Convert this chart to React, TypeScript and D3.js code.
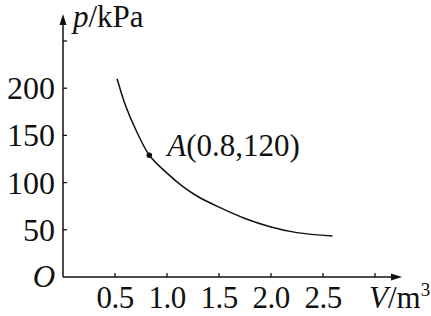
import React from "react";
import * as d3 from "d3";

const volumes = [0.52, 0.6, 0.7, 0.83, 1.0, 1.15, 1.3, 1.5, 1.75, 2.0, 2.25, 2.59];
const pressures = [210, 182, 156, 129, 110, 96, 85, 74, 62, 53, 47, 43.5];
const xTicks = [0.5, 1.0, 1.5, 2.0, 2.5, 3.0];
const xTickLabels = ["0.5", "1.0", "1.5", "2.0", "2.5", ""];
const yTicks = [50, 100, 150, 200, 250];
const yTickLabels = ["50", "100", "150", "200", ""];
const pointA = [0.83, 129];
const pointALabel = "A(0.8,120)";

const W = 431;
const H = 316;
const FONT = "'Liberation Serif', 'Times New Roman', Times, 'DejaVu Serif', serif";

export default function App() {
  const x = d3.scaleLinear().domain([0, 3]).range([63, 375]);
  const y = d3.scaleLinear().domain([0, 250]).range([277, 41]);
  const data = volumes.map((v, i) => [v, pressures[i]] as [number, number]);
  const line = d3
    .line<[number, number]>()
    .x((d) => x(d[0]))
    .y((d) => y(d[1]))
    .curve(d3.curveCatmullRom.alpha(0.5));

  const x0 = x(0);
  const y0 = y(0);
  const yTop = 14;
  const xEnd = 402;
  const fs = 31;
  const ts: React.CSSProperties = { fontFamily: FONT };

  return (
    <svg
      width={W}
      height={H}
      style={{ position: "absolute", left: 0, top: 0, background: "#fff" }}
    >
      {/* axes */}
      <line x1={x0} y1={y0} x2={x0} y2={yTop + 6} stroke="#111" strokeWidth={1.5} />
      <path d={`M${x0},${yTop} L${x0 - 3.5},${yTop + 11} L${x0 + 3.5},${yTop + 11} Z`} fill="#111" />
      <line x1={x0} y1={y0} x2={xEnd - 6} y2={y0} stroke="#111" strokeWidth={1.5} />
      <path d={`M${xEnd},${y0} L${xEnd - 11},${y0 - 3.5} L${xEnd - 11},${y0 + 3.5} Z`} fill="#111" />

      {/* y ticks */}
      {yTicks.map((t, i) => (
        <g key={"y" + t}>
          <line x1={x0} x2={x0 + 4} y1={y(t)} y2={y(t)} stroke="#111" strokeWidth={1.3} />
          {yTickLabels[i] && (
            <text x={55} y={y(t) + 11} textAnchor="end" fontSize={32} fill="#111" style={ts}>
              {yTickLabels[i]}
            </text>
          )}
        </g>
      ))}

      {/* x ticks */}
      {xTicks.map((t, i) => (
        <g key={"x" + t}>
          <line x1={x(t)} x2={x(t)} y1={y0} y2={y0 - 4} stroke="#111" strokeWidth={1.3} />
          {xTickLabels[i] && (
            <text x={x(t)} y={308} textAnchor="middle" fontSize={fs} letterSpacing={-0.5} fill="#111" style={ts}>
              {xTickLabels[i]}
            </text>
          )}
        </g>
      ))}

      {/* origin */}
      <text x={44} y={287} textAnchor="middle" fontSize={fs} fontStyle="italic" fill="#111" style={ts}>
        O
      </text>

      {/* axis titles */}
      <text x={73} y={27} fontSize={fs} fill="#111" style={ts}>
        <tspan fontStyle="italic">p</tspan>
        <tspan>/kPa</tspan>
      </text>
      <text x={369} y={308} fontSize={fs} fill="#111" style={ts}>
        <tspan fontStyle="italic">V</tspan>
        <tspan>/m</tspan>
        <tspan fontSize={19} dy={-12}>3</tspan>
      </text>

      {/* curve */}
      <path d={line(data) || ""} fill="none" stroke="#111" strokeWidth={1.5} />

      {/* point A */}
      <circle cx={x(pointA[0])} cy={y(pointA[1])} r={2.8} fill="#111" />
      <text x={x(pointA[0]) + 18} y={y(pointA[1]) + 1} fontSize={fs} fill="#111" style={ts}>
        <tspan fontStyle="italic">A</tspan>
        <tspan>{pointALabel.slice(1)}</tspan>
      </text>
    </svg>
  );
}
